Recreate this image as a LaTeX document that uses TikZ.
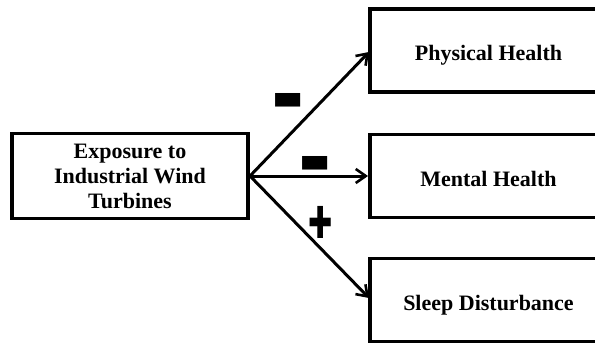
\documentclass[tikz,border=0pt]{standalone}
\usepackage{fontspec}
\setmainfont{Liberation Serif}
\newfontfamily\signfont{Liberation Sans}
\newfontfamily\dejavu{DejaVu Sans}
\usetikzlibrary{arrows.meta}
\begin{document}
\begin{tikzpicture}[x=1pt,y=-1pt,
  box/.style={draw=black,line width=3.5pt,rectangle,inner sep=0pt,
    minimum height=83pt,align=center,font=\bfseries\fontsize{22}{25}\selectfont},
  rbox/.style={box,minimum width=237pt,text depth=0pt,text height=21pt},
  conn/.style={line width=3pt,-{Straight Barb[length=10pt,width=14pt,line width=2.6pt]}},
  sign/.style={inner sep=0pt,font=\signfont\bfseries\fontsize{20}{20}\selectfont}]
\useasboundingbox (0,0) rectangle (595,345);
\begin{scope}
\clip (0,0) rectangle (595,345);
\node[box,minimum width=236pt,minimum height=85pt] (exp) at (130,176) {Exposure to\\Industrial Wind\\Turbines};
\node[rbox] (ph) at (488.5,50.5) {Physical Health};
\node[rbox] (mh) at (488.5,176) {Mental Health};
\node[rbox] (sd) at (488.5,300) {Sleep Disturbance};
\end{scope}
\coordinate (src) at (250,176);
\coordinate (t1) at (369,52);
\coordinate (t2) at (368,176);
\coordinate (t3) at (369,298);
\draw[conn] (src) -- (t1);
\draw[conn] (src) -- (t2);
\draw[conn] (src) -- (t3);
\node[sign] (m1) at (288.5,117.5) {\scalebox{2.5}[6.2]{−}};
\node[sign] (m2) at (315.5,180) {\scalebox{2.5}[6.2]{−}};
\node[sign] (p1) at (320.5,222) {\scalebox{1.45}[2.2]{\dejavu ✚}};
\end{tikzpicture}
\end{document}
